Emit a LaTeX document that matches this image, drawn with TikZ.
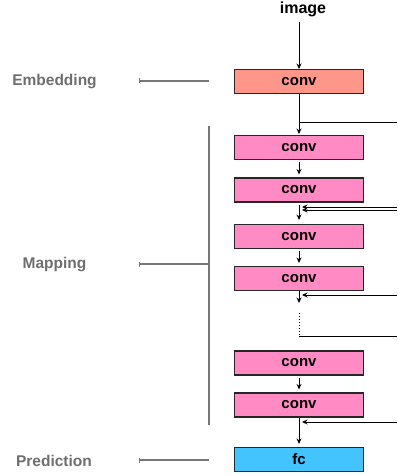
\documentclass[tikz,border=0pt]{standalone}
\usepackage{fontspec}
\setmainfont{Liberation Sans}
\usetikzlibrary{arrows.meta}
\definecolor{embcol}{HTML}{FF968A}
\definecolor{mapcol}{HTML}{FF8AC4}
\definecolor{fccol}{HTML}{44C4FF}
\definecolor{labgray}{HTML}{6E6E6E}
\definecolor{bargray}{HTML}{777777}
\begin{document}
\begin{tikzpicture}[x=1pt,y=-1pt,
  layer/.style={draw=black!85, line width=1.1pt, minimum width=129pt, minimum height=24pt, inner sep=0pt, font=\bfseries\fontsize{15}{15}\selectfont},
  flow/.style={line width=0.9pt, -{Stealth[length=5.5pt,width=5pt]}},
  skipline/.style={line width=0.9pt},
  grouplab/.style={text=labgray, font=\bfseries\fontsize{15.5}{15.5}\selectfont},
  bracket/.style={draw=bargray, line width=1.2pt},
  tick/.style={draw=bargray, line width=1.2pt, {Bar[width=5pt,line width=1pt]}-}
]
\useasboundingbox (0,0) rectangle (397,476);
% title
\node[anchor=base, font=\bfseries\fontsize{16}{16}\selectfont] (img) at (303,13.5) {image};
\coordinate (imgbot) at (299,22);
% layers
\node[layer, fill=embcol] (c0) at (299,81.5) {conv};
\node[layer, fill=mapcol] (c1) at (299,147.5) {conv};
\node[layer, fill=mapcol] (c2) at (299,190) {conv};
\node[layer, fill=mapcol] (c3) at (299,236.5) {conv};
\node[layer, fill=mapcol] (c4) at (299,278.5) {conv};
\node[layer, fill=mapcol] (c5) at (299,363) {conv};
\node[layer, fill=mapcol] (c6) at (299,405) {conv};
\node[layer, fill=fccol] (fc) at (299,459.5) {fc};
% helper coordinates
\coordinate (s0) at (299,122);
\coordinate (r0) at (397,122);
\coordinate (a1) at (302,207);
\coordinate (r1) at (397,207);
\coordinate (a2) at (302,210);
\coordinate (r2) at (397,210);
\coordinate (a3) at (302,295);
\coordinate (r3) at (397,295);
\coordinate (d4) at (299,303);
\coordinate (dt) at (299,313);
\coordinate (db) at (299,336.5);
\coordinate (r4) at (397,336.5);
\coordinate (a5) at (302,422);
\coordinate (r5) at (397,422);
% main flow
\draw[flow] (imgbot) -- (c0);
\draw[flow, shorten >=1pt] (c0) -- (c1);
\draw[skipline] (s0) -- (r0);
\draw[flow, shorten <=2pt, shorten >=3pt] (c1) -- (c2);
\draw[flow, shorten <=2.5pt, shorten >=4pt] (c2) -- (c3);
\draw[flow, shorten <=2pt, shorten >=3pt] (c3) -- (c4);
\draw[flow] (c4) -- (d4);
\draw[line width=1pt, dotted] (dt) -- (db);
\draw[skipline] (db) -- (r4);
\draw[flow, shorten <=2pt, shorten >=3pt] (c5) -- (c6);
\draw[flow, shorten >=3pt] (c6) -- (fc);
% skip arrows
\draw[flow] (r1) -- (a1);
\draw[flow] (r2) -- (a2);
\draw[flow] (r3) -- (a3);
\draw[flow] (r5) -- (a5);
% group labels
\node[grouplab] (emb) at (54.5,82) {Embedding};
\node[grouplab] (map) at (54.5,265) {Mapping};
\node[grouplab] (pred) at (54,461) {Prediction};
\coordinate (te) at (139,81);
\coordinate (tee) at (209,81);
\coordinate (tm) at (139,264);
\coordinate (tme) at (209,264);
\coordinate (tp) at (139,460);
\coordinate (tpe) at (209,460);
\coordinate (bt) at (209,126);
\coordinate (bb) at (209,425);
\draw[tick] (te) -- (tee);
\draw[tick] (tm) -- (tme);
\draw[tick] (tp) -- (tpe);
\draw[bracket] (bt) -- (bb);
\end{tikzpicture}
\end{document}
